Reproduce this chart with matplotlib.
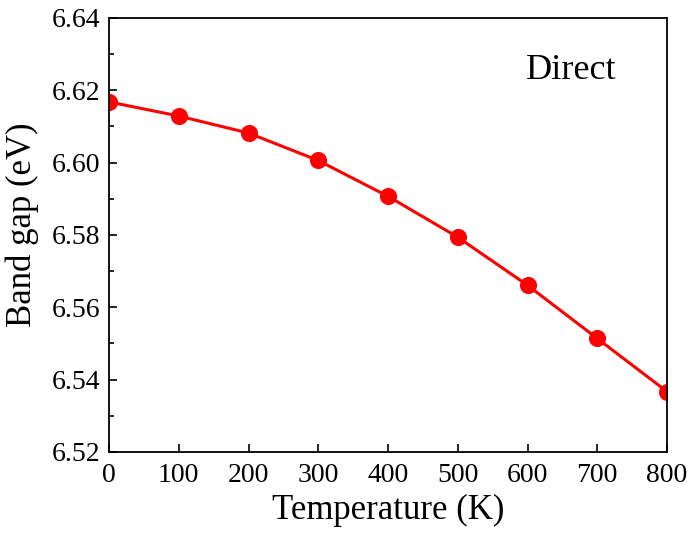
import matplotlib
matplotlib.use("Agg")
import matplotlib.pyplot as plt
from matplotlib.ticker import MultipleLocator

plt.rcParams['font.family'] = ['Liberation Serif', 'DejaVu Serif']
plt.rcParams['mathtext.fontset'] = 'stix'

temperature = [0, 100, 200, 300, 400, 500, 600, 700, 800]
band_gap = [6.6168, 6.6129, 6.6082, 6.6006, 6.5907, 6.5794, 6.5661, 6.5514, 6.5367]

fig = plt.figure(figsize=(6.89, 5.36), dpi=100)
ax = fig.add_axes([109/689, 1-452/536, (667-109)/689, (452-18)/536])

ax.plot(temperature, band_gap, color='#ff0000', lw=2.2, marker='o', ms=11.3, mec='#ff0000', mfc='#ff0000')

ax.set_xlim(0, 800)
ax.set_ylim(6.52, 6.64)
ax.xaxis.set_major_locator(MultipleLocator(100))
ax.yaxis.set_major_locator(MultipleLocator(0.02))
ax.yaxis.set_minor_locator(MultipleLocator(0.01))
ax.yaxis.set_major_formatter(matplotlib.ticker.FormatStrFormatter('%.2f'))
ax.tick_params(axis='both', which='major', direction='in', length=6, width=1.2, labelsize=20, pad=6)
ax.tick_params(axis='x', which='major', pad=8)
ax.tick_params(axis='y', which='minor', direction='in', length=3.5, width=1.2)
for s in ax.spines.values():
    s.set_linewidth(1.3)

ax.set_xlabel('Temperature (K)', fontsize=25, labelpad=4)
ax.set_ylabel('Band gap (eV)', fontsize=25)
ax.yaxis.set_label_coords(-0.125, 0.523)
ax.text(0.828, 0.88, 'Direct', transform=ax.transAxes, fontsize=26, ha='center', va='center')

fig.savefig('out.png', dpi=100)
